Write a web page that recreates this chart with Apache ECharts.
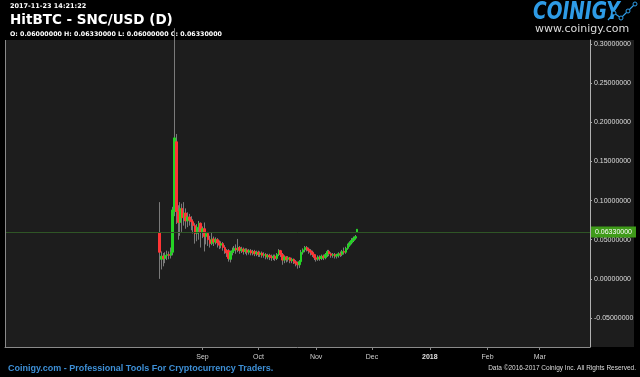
<!DOCTYPE html>
<html>
<head>
<meta charset="utf-8">
<script src="https://cdn.jsdelivr.net/npm/echarts@6/dist/echarts.min.js"></script>
<style>
html,body{margin:0;padding:0;background:#000;}
#main{width:640px;height:377px;}
</style>
</head>
<body>
<div id="main"></div>
<script>
// daily candles, first one on 2017-08-09
var startDate = Date.UTC(2017, 7, 9);
var dayMs = 86400000;
// [open, close, low, high]
var ohlc = [
    [0.059, 0.034, 0.000, 0.098], [0.025, 0.029, 0.012, 0.035], [0.029, 0.026, 0.016, 0.033],
    [0.026, 0.030, 0.020, 0.034], [0.030, 0.031, 0.024, 0.036], [0.031, 0.030, 0.025, 0.035],
    [0.030, 0.034, 0.026, 0.040], [0.034, 0.088, 0.030, 0.092], [0.086, 0.180, 0.080, 0.320],
    [0.175, 0.086, 0.070, 0.185], [0.086, 0.072, 0.050, 0.094], [0.072, 0.090, 0.055, 0.098],
    [0.090, 0.078, 0.060, 0.096], [0.078, 0.084, 0.068, 0.098], [0.084, 0.074, 0.064, 0.090],
    [0.074, 0.079, 0.066, 0.085], [0.079, 0.075, 0.068, 0.083], [0.075, 0.073, 0.062, 0.080],
    [0.073, 0.068, 0.058, 0.076], [0.068, 0.058, 0.045, 0.071], [0.058, 0.066, 0.048, 0.070],
    [0.066, 0.071, 0.050, 0.074], [0.071, 0.060, 0.040, 0.072], [0.060, 0.064, 0.052, 0.067],
    [0.064, 0.054, 0.035, 0.072], [0.054, 0.058, 0.044, 0.061], [0.058, 0.050, 0.042, 0.060],
    [0.050, 0.045, 0.040, 0.055], [0.045, 0.051, 0.043, 0.059], [0.051, 0.047, 0.042, 0.054],
    [0.047, 0.050, 0.044, 0.053], [0.050, 0.046, 0.040, 0.052], [0.046, 0.043, 0.038, 0.049],
    [0.043, 0.045, 0.039, 0.048], [0.045, 0.040, 0.036, 0.047], [0.040, 0.036, 0.032, 0.043],
    [0.036, 0.033, 0.028, 0.038], [0.036, 0.026, 0.022, 0.038], [0.025, 0.034, 0.021, 0.036],
    [0.034, 0.036, 0.030, 0.040], [0.036, 0.039, 0.033, 0.042], [0.039, 0.037, 0.032, 0.044],
    [0.037, 0.040, 0.034, 0.051], [0.040, 0.036, 0.032, 0.042], [0.036, 0.038, 0.033, 0.041],
    [0.038, 0.035, 0.031, 0.040], [0.035, 0.037, 0.032, 0.039], [0.037, 0.034, 0.030, 0.039],
    [0.034, 0.036, 0.031, 0.038], [0.036, 0.033, 0.030, 0.038], [0.033, 0.035, 0.030, 0.037],
    [0.035, 0.032, 0.029, 0.037], [0.032, 0.034, 0.029, 0.036], [0.034, 0.031, 0.028, 0.036],
    [0.031, 0.033, 0.028, 0.035], [0.033, 0.030, 0.027, 0.035], [0.030, 0.031, 0.027, 0.034],
    [0.031, 0.028, 0.025, 0.033], [0.028, 0.030, 0.025, 0.032], [0.030, 0.028, 0.024, 0.032],
    [0.028, 0.027, 0.023, 0.031], [0.027, 0.029, 0.024, 0.031], [0.029, 0.026, 0.023, 0.031],
    [0.026, 0.031, 0.024, 0.033], [0.031, 0.036, 0.029, 0.038], [0.036, 0.031, 0.028, 0.037],
    [0.031, 0.024, 0.018, 0.033], [0.024, 0.028, 0.020, 0.030], [0.028, 0.025, 0.021, 0.029],
    [0.025, 0.027, 0.022, 0.029], [0.027, 0.023, 0.020, 0.028], [0.023, 0.025, 0.020, 0.027],
    [0.025, 0.022, 0.019, 0.026], [0.022, 0.020, 0.016, 0.024], [0.020, 0.018, 0.013, 0.022],
    [0.018, 0.022, 0.014, 0.024], [0.022, 0.034, 0.020, 0.037], [0.034, 0.037, 0.031, 0.039],
    [0.037, 0.040, 0.034, 0.042], [0.040, 0.038, 0.035, 0.042], [0.038, 0.036, 0.032, 0.040],
    [0.036, 0.034, 0.030, 0.038], [0.034, 0.031, 0.028, 0.036], [0.031, 0.027, 0.024, 0.032],
    [0.027, 0.025, 0.022, 0.030], [0.025, 0.028, 0.023, 0.030], [0.028, 0.026, 0.023, 0.030],
    [0.026, 0.029, 0.024, 0.031], [0.029, 0.027, 0.024, 0.031], [0.027, 0.031, 0.025, 0.033],
    [0.031, 0.035, 0.028, 0.037], [0.035, 0.032, 0.029, 0.037], [0.032, 0.030, 0.027, 0.034],
    [0.030, 0.031, 0.027, 0.033], [0.031, 0.029, 0.026, 0.033], [0.029, 0.030, 0.026, 0.032],
    [0.030, 0.032, 0.027, 0.034], [0.032, 0.031, 0.028, 0.035], [0.031, 0.035, 0.029, 0.037],
    [0.035, 0.034, 0.031, 0.040], [0.034, 0.039, 0.032, 0.041], [0.039, 0.043, 0.037, 0.045],
    [0.043, 0.046, 0.041, 0.048], [0.046, 0.049, 0.044, 0.052], [0.049, 0.052, 0.047, 0.054],
    [0.052, 0.054, 0.050, 0.056], [0.060, 0.0633, 0.060, 0.0633]
];
var lastPrice = 0.0633;
var monthNames = ['Jan','Feb','Mar','Apr','May','Jun','Jul','Aug','Sep','Oct','Nov','Dec'];

var wickData = [];
var bodyData = [];
for (var i = 0; i < ohlc.length; i++) {
    var t = startDate + i * dayMs;
    var o = ohlc[i][0], c = ohlc[i][1];
    wickData.push([t, o, c, ohlc[i][2], ohlc[i][3]]);
    bodyData.push([t, o, c, Math.min(o, c), Math.max(o, c)]);
}

var myChart = echarts.init(document.getElementById('main'));
var option = {
    backgroundColor: '#000',
    useUTC: true,
    animation: false,
    grid: [
        {left: 5, right: 50, top: 40, bottom: 30},      // candles
        {left: 5, right: 50, top: 44, bottom: 59},      // price labels
        {left: 202.5, right: 50, top: 40, bottom: 30}   // month labels
    ],
    xAxis: [
        {
            type: 'time', gridIndex: 0,
            min: Date.UTC(2017, 4, 18), max: Date.UTC(2018, 2, 28),
            axisLine: {onZero: false, lineStyle: {color: '#8a8a8a'}},
            axisTick: {show: false},
            axisLabel: {show: false},
            splitLine: {show: false}
        },
        {
            type: 'value', gridIndex: 1, show: false, min: 0, max: 1
        },
        {
            type: 'time', gridIndex: 2,
            min: Date.UTC(2017, 8, 1), max: Date.UTC(2018, 2, 28),
            splitNumber: 7,
            maxInterval: 31 * dayMs,
            axisLine: {show: false, onZero: false},
            axisTick: {show: true, length: 3, lineStyle: {color: '#888'}},
            axisLabel: {
                color: '#cfcfcf', fontSize: 7, fontFamily: 'Liberation Sans', margin: 7,
                showMinLabel: true,
                formatter: function (val) {
                    var d = new Date(val);
                    if (d.getUTCMonth() == 0) return '{y|' + d.getUTCFullYear() + '}';
                    return monthNames[d.getUTCMonth()];
                },
                rich: {y: {fontWeight: 'bold', fontSize: 7, color: '#e0e0e0', fontFamily: 'Liberation Sans'}}
            },
            splitLine: {show: false}
        }
    ],
    yAxis: [
        {
            type: 'value', gridIndex: 0, position: 'right',
            min: -0.087, max: 0.305,
            axisLine: {show: true, onZero: false, lineStyle: {color: '#b0b0b0'}},
            axisTick: {show: false},
            axisLabel: {show: false},
            splitLine: {show: false}
        },
        {
            type: 'value', gridIndex: 1, position: 'right',
            min: -0.05, max: 0.30, interval: 0.05,
            axisLine: {show: false, onZero: false},
            axisTick: {show: true, length: 2, lineStyle: {color: '#aaa'}},
            axisLabel: {
                color: '#dedede', fontSize: 7, fontFamily: 'Liberation Sans', margin: 4,
                formatter: function (v) {
                    if (Math.abs(v) < 1e-9) v = 0;
                    return v.toFixed(8);
                }
            },
            splitLine: {show: false}
        },
        {
            type: 'value', gridIndex: 2, show: false
        }
    ],
    series: [
        {
            name: 'wick',
            type: 'candlestick',
            xAxisIndex: 0, yAxisIndex: 0,
            encode: {x: 0, y: [1, 2, 3, 4]},
            barWidth: 1,
            data: wickData,
            itemStyle: {color: '#7a7a7a', color0: '#7a7a7a', borderColor: '#7a7a7a', borderColor0: '#7a7a7a', borderWidth: 1}
        },
        {
            name: 'SNC/USD',
            type: 'candlestick',
            xAxisIndex: 0, yAxisIndex: 0,
            encode: {x: 0, y: [1, 2, 3, 4]},
            barWidth: 2,
            data: bodyData,
            itemStyle: {color: '#25d325', color0: '#ff3535', borderColor: '#25d325', borderColor0: '#ff3535', borderWidth: 1},
            markLine: {
                silent: true,
                symbol: ['none', 'none'],
                lineStyle: {color: '#2f5526', type: 'solid', width: 1},
                label: {
                    position: 'end',
                    distance: 1,
                    formatter: function () { return lastPrice.toFixed(8); },
                    color: '#fff', fontSize: 7, fontFamily: 'Liberation Sans',
                    backgroundColor: '#3f9b19', padding: [2, 4, 2, 4]
                },
                data: [{yAxis: lastPrice}]
            }
        }
    ],
    graphic: {
        elements: [
            {type: 'rect', z: -10, shape: {x: 5, y: 40, width: 629, height: 307}, style: {fill: '#1d1d1d'}},
            {type: 'line', z: 10, shape: {x1: 5.5, y1: 40, x2: 5.5, y2: 347}, style: {stroke: '#8a8a8a', lineWidth: 1}},
            {type: 'text', x: 10, y: 6.5, style: {text: '2017-11-23 14:21:22', font: 'bold 6.5px "DejaVu Sans"', fill: '#fff', verticalAlign: 'middle'}},
            {type: 'text', x: 10, y: 20, style: {text: 'HitBTC - SNC/USD (D)', font: 'bold 13.5px "DejaVu Sans"', fill: '#fff', verticalAlign: 'middle'}},
            {type: 'text', x: 10, y: 34, style: {text: 'O: 0.06000000 H: 0.06330000 L: 0.06000000 C: 0.06330000', font: 'bold 6.3px "DejaVu Sans"', fill: '#fff', verticalAlign: 'middle'}},
            {type: 'text', x: 533, y: 12.5, scaleX: 0.86, style: {text: 'COINIGY', font: 'italic bold 24px "Liberation Sans Narrow", "DejaVu Sans Condensed", sans-serif', fill: '#2e9be6', verticalAlign: 'middle'}},
            {type: 'polyline', shape: {points: [[608, 20], [614, 13], [621, 18], [628, 11], [635, 4]]}, style: {stroke: '#2e9be6', lineWidth: 1.2, fill: null}},
            {type: 'circle', shape: {cx: 614, cy: 13, r: 2}, style: {stroke: '#2e9be6', fill: '#000', lineWidth: 1}},
            {type: 'circle', shape: {cx: 621, cy: 18, r: 2}, style: {stroke: '#2e9be6', fill: '#000', lineWidth: 1}},
            {type: 'circle', shape: {cx: 628, cy: 11, r: 2}, style: {stroke: '#2e9be6', fill: '#000', lineWidth: 1}},
            {type: 'circle', shape: {cx: 635, cy: 4, r: 2}, style: {stroke: '#2e9be6', fill: '#000', lineWidth: 1}},
            {type: 'text', x: 535, y: 29, style: {text: 'www.coinigy.com', font: '11px "DejaVu Sans"', fill: '#dcdcdc', verticalAlign: 'middle'}},
            {type: 'text', x: 8, y: 368.5, style: {text: 'Coinigy.com - Professional Tools For Cryptocurrency Traders.', font: 'bold 9px "Liberation Sans"', fill: '#3d8fd6', verticalAlign: 'middle'}},
            {type: 'text', x: 636, y: 368.5, style: {text: 'Data \u00a92016-2017 Coinigy Inc. All Rights Reserved.', font: '6.5px "Liberation Sans"', fill: '#dcdcdc', align: 'right', verticalAlign: 'middle'}}
        ]
    }
};
myChart.setOption(option);
</script>
</body>
</html>
